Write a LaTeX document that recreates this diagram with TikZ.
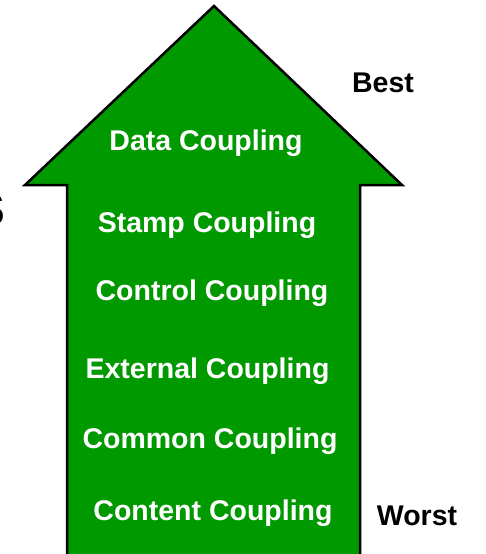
\documentclass[tikz,border=0pt]{standalone}
\usepackage{fontspec}
\setmainfont{Liberation Sans}
\definecolor{arrowgreen}{RGB}{0,153,0}
\begin{document}
\begin{tikzpicture}[x=1pt,y=-1pt,
  inlabel/.style={text=white,font=\bfseries\fontsize{28.5}{30}\selectfont,inner sep=0pt,anchor=base},
  outlabel/.style={text=black,font=\bfseries\fontsize{28.5}{30}\selectfont,inner sep=0pt,anchor=base}]
\useasboundingbox (0,0) rectangle (485,554);
\begin{scope}
\clip (0,0) rectangle (485,554);
\draw[line width=2.5pt,line join=miter,fill=arrowgreen,draw=black]
  (214,6) -- (402,185) -- (360,185) -- (360,570) -- (67,570) -- (67,185) -- (25,185) -- cycle;
\node[text=black,font=\bfseries\fontsize{46}{48}\selectfont,inner sep=0pt,anchor=base west] (frag) at (-25.5,225) {S};
\end{scope}
\node[inlabel] (data) at (206,150) {Data Coupling};
\node[inlabel] (stamp) at (207,232) {Stamp Coupling};
\node[inlabel] (control) at (212,300) {Control Coupling};
\node[inlabel] (external) at (207.5,378) {External Coupling};
\node[inlabel] (common) at (210,448) {Common Coupling};
\node[inlabel] (content) at (213,520) {Content Coupling};
\node[outlabel] (best) at (383,92) {Best};
\node[outlabel] (worst) at (417,525) {Worst};
\end{tikzpicture}
\end{document}
